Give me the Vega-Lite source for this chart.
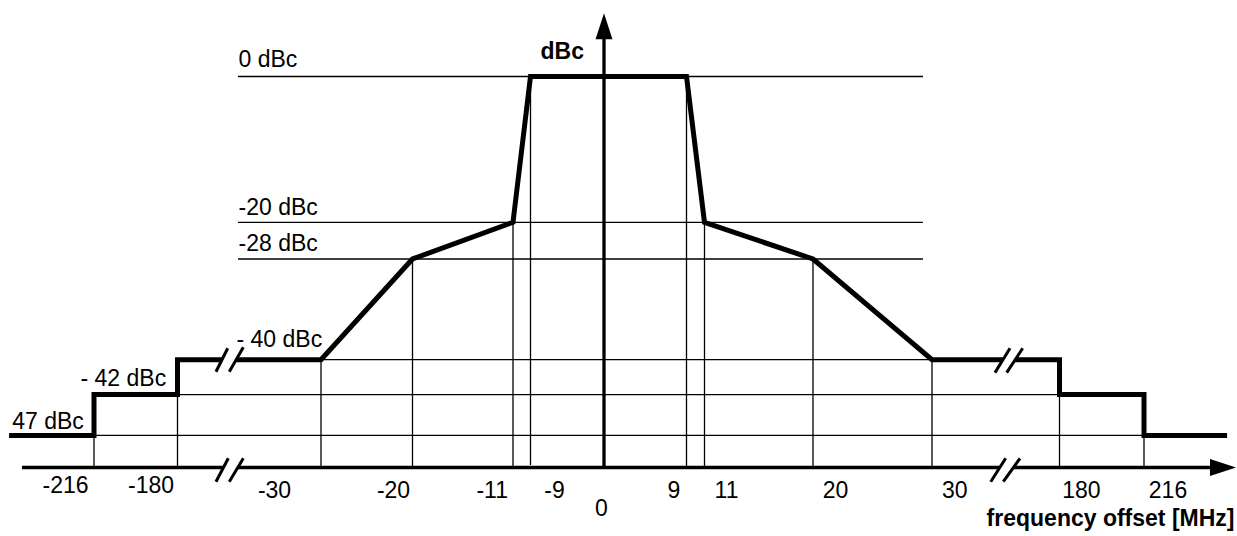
{
  "$schema": "https://vega.github.io/schema/vega-lite/v6.json",
  "width": 1237,
  "height": 536,
  "autosize": {"type": "none"},
  "padding": 0,
  "background": "white",
  "config": {"view": {"stroke": null}},
  "datasets": {
    "mask": [
      {"seg": "a", "i": 1, "f": -252.6, "dbc": -47},
      {"seg": "a", "i": 2, "f": -216, "dbc": -47},
      {"seg": "a", "i": 3, "f": -216, "dbc": -42},
      {"seg": "a", "i": 4, "f": -180, "dbc": -42},
      {"seg": "a", "i": 5, "f": -180, "dbc": -40},
      {"seg": "a", "i": 6, "f": -133.5, "dbc": -40},
      {"seg": "b", "i": 7, "f": -118.4, "dbc": -40},
      {"seg": "b", "i": 8, "f": -30, "dbc": -40},
      {"seg": "b", "i": 9, "f": -20, "dbc": -28},
      {"seg": "b", "i": 10, "f": -11, "dbc": -20},
      {"seg": "b", "i": 11, "f": -9, "dbc": 0},
      {"seg": "b", "i": 12, "f": 9, "dbc": 0},
      {"seg": "b", "i": 13, "f": 11, "dbc": -20},
      {"seg": "b", "i": 14, "f": 20, "dbc": -28},
      {"seg": "b", "i": 15, "f": 30, "dbc": -40},
      {"seg": "b", "i": 16, "f": 113.5, "dbc": -40},
      {"seg": "c", "i": 17, "f": 127.9, "dbc": -40},
      {"seg": "c", "i": 18, "f": 180, "dbc": -40},
      {"seg": "c", "i": 19, "f": 180, "dbc": -42},
      {"seg": "c", "i": 20, "f": 216, "dbc": -42},
      {"seg": "c", "i": 21, "f": 216, "dbc": -47},
      {"seg": "c", "i": 22, "f": 251.4, "dbc": -47}
    ],
    "thin": [
      {"f": -116.8, "dbc": 0, "f2": 29.24, "dbc2": 0},
      {"f": -116.8, "dbc": -20, "f2": 29.24, "dbc2": -20},
      {"f": -116.8, "dbc": -28, "f2": 29.24, "dbc2": -28},
      {"f": -30, "dbc": -40, "f2": 30, "dbc2": -40},
      {"f": -180, "dbc": -42, "f2": 180, "dbc2": -42},
      {"f": -216, "dbc": -47, "f2": 216, "dbc2": -47},
      {"f": -216, "dbc": -47, "f2": -216, "dbc2": -51},
      {"f": -180, "dbc": -42, "f2": -180, "dbc2": -51},
      {"f": -30, "dbc": -40, "f2": -30, "dbc2": -51},
      {"f": -20, "dbc": -28, "f2": -20, "dbc2": -51},
      {"f": -11, "dbc": -20, "f2": -11, "dbc2": -51},
      {"f": -9, "dbc": 0, "f2": -9, "dbc2": -50.7},
      {"f": 9, "dbc": 0, "f2": 9, "dbc2": -51},
      {"f": 11, "dbc": -20, "f2": 11, "dbc2": -51},
      {"f": 20, "dbc": -28, "f2": 20, "dbc2": -51},
      {"f": 30, "dbc": -40, "f2": 30, "dbc2": -51},
      {"f": 180, "dbc": -42, "f2": 180, "dbc2": -51},
      {"f": 216, "dbc": -47, "f2": 216, "dbc2": -51}
    ],
    "axes": [
      {"f": -247.05, "dbc": -51, "f2": -131.9, "dbc2": -51},
      {"f": -117.0, "dbc": -51, "f2": 109.8, "dbc2": -51},
      {"f": 125.8, "dbc": -51, "f2": 248.4, "dbc2": -51},
      {"f": 0, "dbc": -51, "f2": 0, "dbc2": 6.5}
    ],
    "slashes": [
      {"f": -139.8, "dbc": -40.69, "f2": -127.5, "dbc2": -38.64},
      {"f": -125.9, "dbc": -40.69, "f2": -111.2, "dbc2": -38.52},
      {"f": -139.8, "dbc": -52.77, "f2": -126.9, "dbc2": -49.85},
      {"f": -125.9, "dbc": -52.77, "f2": -111.2, "dbc2": -49.85},
      {"f": 104.1, "dbc": -40.74, "f2": 121.8, "dbc2": -38.64},
      {"f": 117.9, "dbc": -40.74, "f2": 136.7, "dbc2": -38.64},
      {"f": 99.1, "dbc": -52.77, "f2": 116.7, "dbc2": -49.85},
      {"f": 113.9, "dbc": -52.77, "f2": 133.5, "dbc2": -49.85}
    ],
    "arrows": [
      {"f": 0, "dbc": 8.67, "dir": "up"},
      {"f": 255.2, "dbc": -51, "dir": "right"}
    ]
  },
  "encoding": {
    "x": {
      "field": "f",
      "type": "quantitative",
      "scale": {
        "domain": [-216, -180, -30, -20, -11, -9, 0, 9, 11, 20, 30, 180, 216],
        "range": [94, 177.5, 321, 412.5, 513, 530.5, 604, 686.5, 704.5, 813, 932, 1059.5, 1144],
        "zero": false,
        "nice": false
      },
      "axis": {
        "orient": "bottom",
        "offset": -68.5,
        "values": [-216, -180, -30, -20, -11, -9, 0, 9, 11, 20, 30, 180, 216],
        "domain": false,
        "ticks": false,
        "tickSize": 0,
        "grid": false,
        "labelExpr": "'' + datum.value",
        "labelFont": "Liberation Sans",
        "labelFontSize": 23,
        "labelColor": "black",
        "labelAlign": "center",
        "labelBaseline": "alphabetic",
        "labelOverlap": false,
        "labelFlush": false,
        "labelBound": false,
        "labelOffset": {"expr": "datum.value == -216 ? -29 : datum.value == -180 ? -27 : datum.value == -30 ? -47 : datum.value == -20 ? -19.5 : datum.value == -11 ? -21.3 : datum.value == -9 ? 23.5 : datum.value == 0 ? -3 : datum.value == 9 ? -13 : datum.value == 11 ? 21.5 : datum.value == 20 ? 22 : datum.value == 30 ? 22.2 : datum.value == 180 ? 21.4 : 23.5"},
        "labelPadding": {"expr": "datum.value <= -180 ? 24.5 : datum.value == 0 ? 47.5 : 29.5"},
        "title": "frequency offset [MHz]",
        "titleFont": "Liberation Sans",
        "titleFontSize": 23,
        "titleFontWeight": "bold",
        "titleColor": "black",
        "titleAngle": 0,
        "titleAlign": "right",
        "titleBaseline": "alphabetic",
        "titleX": 1234,
        "titleY": 57.5
      }
    },
    "y": {
      "field": "dbc",
      "type": "quantitative",
      "scale": {
        "domain": [-51, -47, -42, -40, -28, -20, 0],
        "range": [467.5, 435.4, 394.6, 359.7, 259, 222.3, 76.5],
        "zero": false,
        "nice": false
      },
      "axis": {
        "orient": "left",
        "values": [0, -20, -28, -40, -42, -47],
        "domain": false,
        "ticks": false,
        "tickSize": 0,
        "grid": false,
        "labelExpr": "datum.value == 0 ? '0 dBc' : datum.value == -40 ? '- 40 dBc' : datum.value == -42 ? '- 42 dBc' : datum.value == -47 ? '47 dBc' : datum.value + ' dBc'",
        "labelFont": "Liberation Sans",
        "labelFontSize": 23,
        "labelColor": "black",
        "labelAlign": "left",
        "labelBaseline": "alphabetic",
        "labelOverlap": false,
        "labelFlush": false,
        "labelBound": false,
        "labelPadding": {"expr": "datum.value == -47 ? -11.7 : datum.value == -42 ? -80 : datum.value == -40 ? -236 : -238"},
        "labelOffset": {"expr": "datum.value == 0 ? -10 : datum.value == -20 ? -8 : datum.value == -28 ? -9 : datum.value == -40 ? -13.7 : datum.value == -42 ? -8.9 : -7.1"},
        "title": "dBc",
        "titleFont": "Liberation Sans",
        "titleFontSize": 23,
        "titleFontWeight": "bold",
        "titleColor": "black",
        "titleAngle": 0,
        "titleAlign": "left",
        "titleBaseline": "alphabetic",
        "titleX": 540,
        "titleY": 58.3
      }
    }
  },
  "layer": [
    {
      "data": {"name": "thin"},
      "mark": {"type": "rule", "stroke": "black", "strokeWidth": 1.3},
      "encoding": {"x2": {"field": "f2"}, "y2": {"field": "dbc2"}}
    },
    {
      "data": {"name": "axes"},
      "mark": {"type": "rule", "stroke": "black", "strokeWidth": 3.3},
      "encoding": {"x2": {"field": "f2"}, "y2": {"field": "dbc2"}}
    },
    {
      "data": {"name": "mask"},
      "mark": {"type": "line", "stroke": "black", "strokeWidth": 5, "strokeJoin": "miter", "strokeCap": "butt"},
      "encoding": {"detail": {"field": "seg"}, "order": {"field": "i"}}
    },
    {
      "data": {"name": "slashes"},
      "mark": {"type": "rule", "stroke": "black", "strokeWidth": 3, "strokeCap": "butt"},
      "encoding": {"x2": {"field": "f2"}, "y2": {"field": "dbc2"}}
    },
    {
      "data": {"name": "arrows"},
      "transform": [{"filter": "datum.dir == 'up'"}],
      "mark": {"type": "point", "shape": "M0,0L-0.65,2L0.65,2Z", "size": 676, "filled": true, "color": "black", "opacity": 1, "strokeWidth": 0}
    },
    {
      "data": {"name": "arrows"},
      "transform": [{"filter": "datum.dir == 'right'"}],
      "mark": {"type": "point", "shape": "M0,0L-2,-0.65L-2,0.65Z", "size": 676, "filled": true, "color": "black", "opacity": 1, "strokeWidth": 0}
    }
  ]
}
